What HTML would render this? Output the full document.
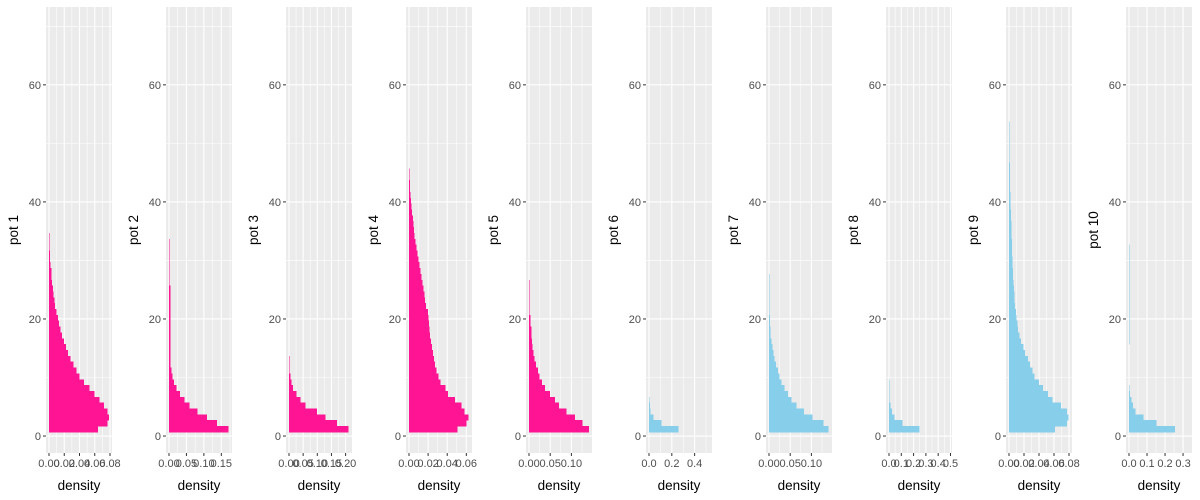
<!DOCTYPE html>
<html><head><meta charset="utf-8">
<style>
html,body{margin:0;padding:0;background:#fff;}
svg{display:block;font-family:"Liberation Sans",Arial,sans-serif;}
</style></head>
<body>
<svg id="chart" width="1200" height="500" viewBox="0 0 1200 500"></svg>
<script>
const panelNames = ["pot 1","pot 2","pot 3","pot 4","pot 5","pot 6","pot 7","pot 8","pot 9","pot 10"];
const panelColors = ["#FF1493","#FF1493","#FF1493","#FF1493","#FF1493","#87CEEB","#87CEEB","#87CEEB","#87CEEB","#87CEEB"];
const axisMax = [0.0787,0.172,0.212,0.0628,0.1415,0.526,0.1415,0.488,0.08,0.333];
const binStart = 0.7;
const binWidth = 1;
const dens1 = [.064,.077,.079,.077,.072,.066,.060,.053,.046,.040,.036,.032,.028,.025,.022,.020,.017,.015,.013,.012,.010,.008,.007,.006,.005,.004,.0035,.003,.002,.0015,.001,.0005,.0003,.0002];
const dens2 = [.171,.137,.109,.082,.059,.044,.031,.021,.014,.0096,.0067,.004,.004,.004,.004,.004,.004,.004,.004,.004,.004,.004,.004,.004,.004,.001,.001,.001,.001,.001,.001,.001,.001];
const dens3 = [.21,.17,.129,.099,.059,.041,.026,.015,.008,.005,.002,.001,.001];
const dens4 = [.051,.060,.0625,.058,.055,.048,.041,.038,.033,.031,.029,.027,.026,.025,.024,.023,.022,.0215,.021,.0205,.02,.018,.017,.016,.015,.014,.013,.012,.011,.010,.009,.008,.007,.006,.005,.0045,.004,.003,.0025,.002,.0015,.001,.001,.0005,.0005];
const dens5 = [.141,.126,.108,.088,.071,.061,.049,.038,.031,.025,.021,.017,.013,.011,.0087,.007,.006,.0055,.004,.003,.0015,.001,.001,.0008,.0005,.0005];
const dens6 = [.26,.11,.04,.015,.008,.004];
const dens7 = [.140,.128,.102,.082,.065,.053,.045,.037,.029,.025,.021,.017,.013,.011,.008,.0055,.004,.003,.0025,.002,.0015,.001,.001,.0008,.0005,.0005,.0003];
const dens8 = [.25,.108,.046,.024,.011,.005,.003,.002,.001];
const dens9 = [.061,.077,.079,.077,.069,.058,.052,.045,.040,.034,.031,.028,.025,.021,.019,.016,.014,.012,.011,.010,.009,.008,.0075,.007,.0065,.006,.0055,.005,.0048,.0045,.0042,.004,.0037,.0034,.0032,.003,.0028,.0025,.0022,.002,.0018,.0016,.0014,.0012,.001,.001,.0008,.0006,.0005,.0005,.0004,.0003,.0003];
const dens10 = [.254,.152,.08,.035,.022,.013,.006,.003,0,0,0,0,0,0,0,.001,.001,.001,.001,.001,.001,.001,.001,.001,.001,.001,.001,.001,.001,.001,.001,.001];
const densities = [dens1,dens2,dens3,dens4,dens5,dens6,dens7,dens8,dens9,dens10];
const xTicks1 = [0,0.02,0.04,0.06,0.08];
const xTicks2 = [0,0.05,0.10,0.15];
const xTicks3 = [0,0.05,0.10,0.15,0.20];
const xTicks4 = [0,0.02,0.04,0.06];
const xTicks5 = [0,0.05,0.10];
const xTicks6 = [0,0.2,0.4];
const xTicks7 = [0,0.05,0.10];
const xTicks8 = [0,0.1,0.2,0.3,0.4,0.5];
const xTicks9 = [0,0.02,0.04,0.06,0.08];
const xTicks10 = [0,0.1,0.2,0.3];
const xTicks = [xTicks1,xTicks2,xTicks3,xTicks4,xTicks5,xTicks6,xTicks7,xTicks8,xTicks9,xTicks10];
const xDecimals = [2,2,2,2,2,1,2,1,2,1];
const yTicks = [0,20,40,60];
const yDomain = [-2.9,73.3];

const NS="http://www.w3.org/2000/svg";
const svg=document.getElementById('chart');
function mk(tag,attrs,parent){const e=document.createElementNS(NS,tag);for(const k in attrs)e.setAttribute(k,attrs[k]);(parent||svg).appendChild(e);return e;}
const TOP=7,BOT=453,W=66;
function yScale(v){return BOT-(v-yDomain[0])/(yDomain[1]-yDomain[0])*(BOT-TOP);}

for(let p=0;p<10;p++){
  const L=46+120*p;
  const m=axisMax[p];
  const x0=-0.05*m,x1=1.05*m;
  const xScale=v=>L+(v-x0)/(x1-x0)*W;
  const g=mk('g',{});
  
  
  const bg=mk('rect',{x:L,y:TOP,width:W,height:BOT-TOP,fill:'#EBEBEB'},g);
  
  
  for(let i=0;i<yTicks.length;i++){
    const v=yTicks[i]+10;
    const yy=yScale(v);
    if(yy>TOP) mk('line',{x1:L,x2:L+W,y1:yy,y2:yy,stroke:'#fff','stroke-width':0.55},g);
  }
  const xt=xTicks[p];
  const step=xt[1]-xt[0];
  for(let i=0;i<xt.length+1;i++){
    const v=xt[0]+step*(i+0.5);
    const xx=xScale(v);
    if(xx<L+W) mk('line',{x1:xx,x2:xx,y1:TOP,y2:BOT,stroke:'#fff','stroke-width':0.55},g);
  }
  for(const v of yTicks){const yy=yScale(v);mk('line',{x1:L,x2:L+W,y1:yy,y2:yy,stroke:'#fff','stroke-width':1.1},g);}
  for(const v of xt){const xx=xScale(v);mk('line',{x1:xx,x2:xx,y1:TOP,y2:BOT,stroke:'#fff','stroke-width':1.1},g);}
  const d=densities[p];
  for(let i=0;i<d.length;i++){
    if(d[i]<=0) continue;
    const ya=yScale(binStart+i*binWidth),yb=yScale(binStart+(i+1)*binWidth);
    const r=mk('rect',{x:xScale(0),y:yb,width:Math.max(xScale(d[i])-xScale(0),0.6),height:ya-yb+0.5,fill:panelColors[p],'shape-rendering':'crispEdges'},g);
    
    
  }
  for(const v of yTicks){
    const yy=yScale(v);
    mk('line',{x1:L-3,x2:L,y1:yy,y2:yy,stroke:'#333','stroke-width':1},g);
    const t=mk('text',{x:L-5,y:yy+4,'text-anchor':'end','font-size':11,fill:'#4D4D4D'},g);
    t.textContent=v;
    
    
  }
  for(const v of xt){
    const xx=xScale(v);
    mk('line',{x1:xx,x2:xx,y1:BOT,y2:BOT+3,stroke:'#333','stroke-width':1},g);
    const t=mk('text',{x:xx,y:BOT+14,'text-anchor':'middle','font-size':11,fill:'#4D4D4D'},g);
    t.textContent=v.toFixed(xDecimals[p]);
    
    
  }
  const xtitle=mk('text',{x:L+W/2,y:490,'text-anchor':'middle','font-size':13.5,fill:'#000'},g);
  xtitle.textContent='density';
  
  
  const yc=(TOP+BOT)/2;
  const ytitle=mk('text',{x:L-28,y:yc,'text-anchor':'middle','font-size':13.5,fill:'#000',transform:'rotate(-90 '+(L-28)+' '+yc+')'},g);
  ytitle.textContent=panelNames[p];
  
  
}
</script>
</body></html>
